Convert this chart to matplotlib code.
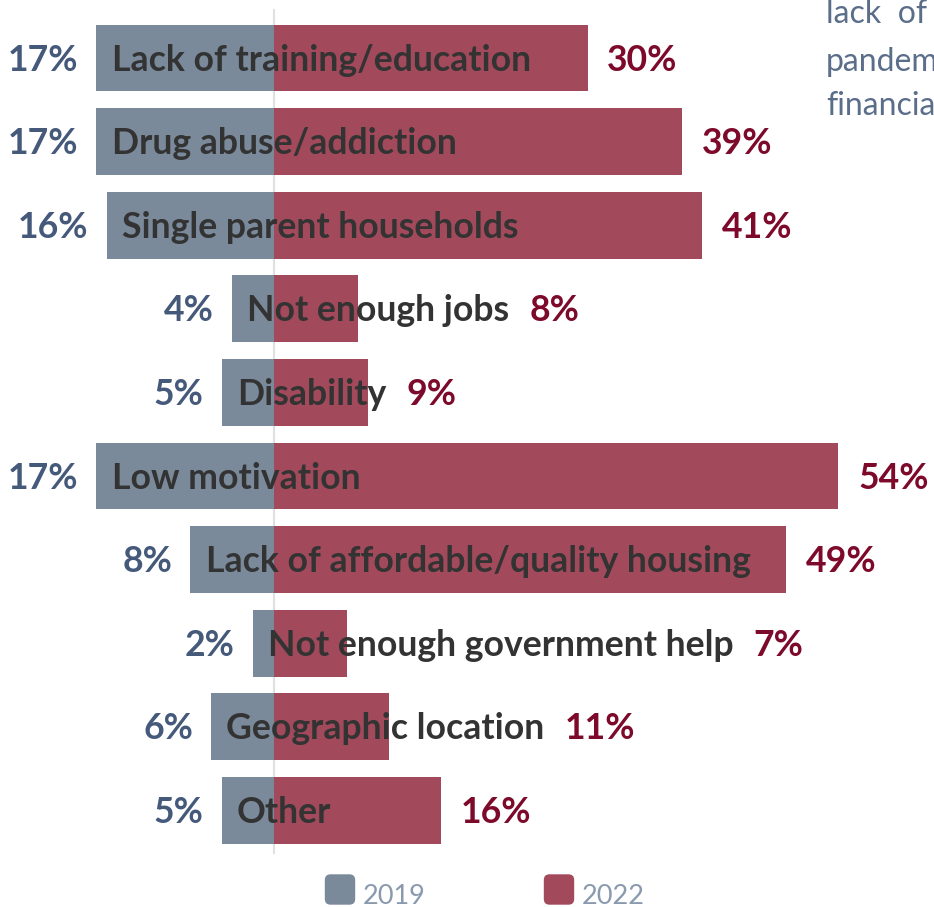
import matplotlib
matplotlib.use("Agg")
import matplotlib.pyplot as plt
from matplotlib.patches import FancyBboxPatch

categories = ["Lack of training/education", "Drug abuse/addiction", "Single parent households",
              "Not enough jobs", "Disability", "Low motivation",
              "Lack of affordable/quality housing", "Not enough government help",
              "Geographic location", "Other"]
y2019 = [17, 17, 16, 4, 5, 17, 8, 2, 6, 5]
y2022 = [30, 39, 41, 8, 9, 54, 49, 7, 11, 16]
years = ["2019", "2022"]

c19 = "#7a8a9b"
c22 = "#a24a5b"
lab19 = "#45597a"
lab22 = "#7d0a2a"
txt = "#333333"

W, H = 934, 907
ppu = 10.45          # pixels per percent
x0 = 274             # pixel position of the zero line
top, step = 58, 83.6  # first row centre and row spacing in pixels

fig = plt.figure(figsize=(W / 100, H / 100), dpi=100)
ax = fig.add_axes([0, 0, 1, 1])
ax.set_xlim(-x0 / ppu, (W - x0) / ppu)
ax.set_ylim((H - top) / step, -top / step)
ax.axis("off")

font = "Lato"
fs = 25.7
dy = 0.025  # nudge labels down a touch so they sit centred on the bars

ax.plot([0, 0], [(10 - top) / step, (853 - top) / step], color="#e0e0e0", lw=1.5, zorder=0)

rows = range(len(categories))
ax.barh(rows, [-v for v in y2019], height=0.8, color=c19, zorder=1)
ax.barh(rows, y2022, height=0.8, color=c22, zorder=1)

fig.canvas.draw()
r = fig.canvas.get_renderer()
inv = ax.transData.inverted()
gap = 1.9
for i, (a, b, name) in enumerate(zip(y2019, y2022, categories)):
    t = ax.text(-a + 1.45, i + dy, name, ha="left", va="center", fontsize=fs,
                fontweight="bold", family=font, color=txt, zorder=3)
    ax.text(-a - 1.75, i + dy, f"{a}%", ha="right", va="center", fontsize=fs,
            fontweight="bold", family=font, color=lab19, zorder=3)
    bb = t.get_window_extent(renderer=r)
    text_end = inv.transform((bb.x1, 0))[0]
    ax.text(max(b, text_end) + gap, i + dy, f"{b}%", ha="left", va="center", fontsize=fs,
            fontweight="bold", family=font, color=lab22, zorder=3)

# legend
for xp, col, lab in [(340, c19, years[0]), (559, c22, years[1])]:
    sq = FancyBboxPatch((xp - 14.5, H - 904), 29, 29, boxstyle="round,pad=0,rounding_size=5",
                        transform=None, color=col)
    fig.patches.append(sq)
    fig.text((xp + 23) / W, 1 - 896 / H, lab, ha="left", va="center", fontsize=19.5,
             family=font, color="#8a9aae")

# neighbouring paragraph text, cut at the right edge
for yp, s in [(14, "lack  of  the"), (62, "pandemic"), (106, "financial")]:
    fig.text(826 / W, 1 - yp / H, s, ha="left", va="center", fontsize=23,
             family=font, color="#5a6e8a")

fig.savefig("out.png", dpi=100)
